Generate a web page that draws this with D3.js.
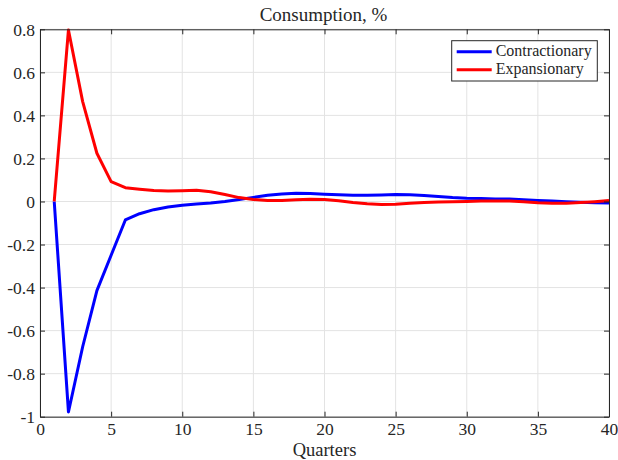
<!DOCTYPE html>
<html>
<head>
<meta charset="utf-8">
<script src="https://cdn.jsdelivr.net/npm/d3@7"></script>
</head>
<body style="margin:0">
<svg id="chart" width="618" height="460"></svg>
<script>
const quarters = [1,2,3,4,5,6,7,8,9,10,11,12,13,14,15,16,17,18,19,20,
                  21,22,23,24,25,26,27,28,29,30,31,32,33,34,35,36,37,38,39,40];
const contractionary = [0, -0.978, -0.675, -0.414, -0.25, -0.086, -0.057, -0.038, -0.026, -0.018,
                        -0.012, -0.007, 0.0, 0.009, 0.019, 0.029, 0.035, 0.038, 0.037, 0.034,
                        0.031, 0.029, 0.029, 0.030, 0.032, 0.031, 0.028, 0.023, 0.018, 0.015,
                        0.014, 0.012, 0.011, 0.008, 0.005, 0.002, -0.001, -0.004, -0.006, -0.007];
const expansionary = [0, 0.797, 0.464, 0.224, 0.092, 0.064, 0.057, 0.051, 0.049, 0.050,
                      0.052, 0.045, 0.032, 0.018, 0.009, 0.004, 0.005, 0.008, 0.010, 0.009,
                      0.003, -0.005, -0.011, -0.014, -0.013, -0.008, -0.005, -0.002, -0.001, 0.0,
                      0.002, 0.002, 0.002, -0.001, -0.006, -0.008, -0.008, -0.005, -0.001, 0.004];
const xTicks = [0, 5, 10, 15, 20, 25, 30, 35, 40];
const yTicks = [-1, -0.8, -0.6, -0.4, -0.2, 0, 0.2, 0.4, 0.6, 0.8];
const yTickLabels = ["-1", "-0.8", "-0.6", "-0.4", "-0.2", "0", "0.2", "0.4", "0.6", "0.8"];
const seriesNames = ["Contractionary", "Expansionary"];
const seriesColors = ["#0000ff", "#ff0000"];
const titleText = "Consumption, %";
const xLabelText = "Quarters";

const FONT = "'Liberation Serif'";
const svg = d3.select("#chart");
const L = 40, R = 609, T = 29.3, B = 416.7;
const x = d3.scaleLinear().domain([0, 40]).range([L, R]);
const y = d3.scaleLinear().domain([-1, 0.8]).range([B, T]);
const axisColor = "#262626";

// grid
const grid = svg.append("g");
grid.selectAll(".gx").data(xTicks).join("line")
  .attr("x1", d => x(d)).attr("x2", d => x(d)).attr("y1", T).attr("y2", B)
  .attr("stroke", "#e3e3e3").attr("stroke-width", 1);
grid.selectAll(".gy").data(yTicks).join("line")
  .attr("x1", L).attr("x2", R).attr("y1", d => y(d)).attr("y2", d => y(d))
  .attr("stroke", "#e3e3e3").attr("stroke-width", 1);

// series
const series = [contractionary, expansionary];
const line = d3.line().x((d, i) => x(quarters[i])).y(d => y(d));
series.forEach((s, k) => {
  svg.append("path").datum(s)
    .attr("d", line)
    .attr("fill", "none")
    .attr("stroke", seriesColors[k])
    .attr("stroke-width", 3)
    .attr("stroke-linejoin", "round");
});

// axes (MATLAB style, ticks inward, box on)
const tk = 5;
const xBottom = d3.axisBottom(x).tickValues(xTicks).tickSizeInner(-tk).tickSizeOuter(0).tickPadding(10).tickFormat(d3.format("d"));
const gxb = svg.append("g").attr("transform", `translate(0,${B})`).call(xBottom);
const xTop = d3.axisTop(x).tickValues(xTicks).tickSizeInner(-tk).tickSizeOuter(0).tickFormat("");
const gxt = svg.append("g").attr("transform", `translate(0,${T})`).call(xTop);
const yLeft = d3.axisLeft(y).tickValues(yTicks).tickSizeInner(-tk).tickSizeOuter(0).tickPadding(10)
  .tickFormat((d, i) => yTickLabels[i]);
const gyl = svg.append("g").attr("transform", `translate(${L},0)`).call(yLeft);
const yRight = d3.axisRight(y).tickValues(yTicks).tickSizeInner(-tk).tickSizeOuter(0).tickFormat("");
const gyr = svg.append("g").attr("transform", `translate(${R},0)`).call(yRight);

[gxb, gxt, gyl, gyr].forEach(g => {
  g.attr("font-family", null).attr("font-size", null);
  g.select(".domain").attr("stroke", axisColor).attr("stroke-width", 1);
  g.selectAll(".tick line").attr("stroke", axisColor).attr("stroke-width", 1);
  g.selectAll(".tick text").attr("fill", axisColor)
    .style("font-family", FONT).style("font-size", "17.5px");
});
gyl.selectAll(".tick text").attr("x", -5).attr("dy", "0.34em");
gxb.selectAll(".tick text").attr("y", 5).attr("dy", "0.76em");

// title & label
svg.append("text").attr("x", (L + R) / 2 - 1).attr("y", 20.5)
  .attr("text-anchor", "middle").style("font-family", FONT).style("font-size", "19px")
  .attr("fill", axisColor).text(titleText);
svg.append("text").attr("x", (L + R) / 2).attr("y", 455.5)
  .attr("text-anchor", "middle").style("font-family", FONT).style("font-size", "18.5px")
  .attr("fill", axisColor).text(xLabelText);

// legend
const lg = svg.append("g");
lg.append("rect").attr("x", 451.7).attr("y", 40.7).attr("width", 145.6).attr("height", 40.3)
  .attr("fill", "#fff").attr("stroke", axisColor).attr("stroke-width", 1);
const rows = [51.7, 69.7];
seriesNames.forEach((n, k) => {
  lg.append("line").attr("x1", 456.7).attr("x2", 491.7).attr("y1", rows[k]).attr("y2", rows[k])
    .attr("stroke", seriesColors[k]).attr("stroke-width", 3);
  lg.append("text").attr("x", 495.7).attr("y", rows[k] + 4.5)
    .style("font-family", FONT).style("font-size", "16px").attr("fill", axisColor).text(n);
});
</script>
</body>
</html>
